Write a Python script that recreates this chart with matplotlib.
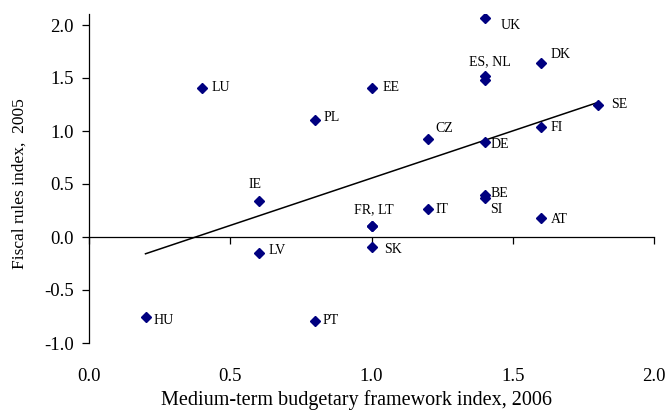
import numpy as np
import matplotlib
matplotlib.use("Agg")
import matplotlib.pyplot as plt

plt.rcParams["font.family"] = ["Liberation Serif", "DejaVu Serif"]
plt.rcParams["axes.unicode_minus"] = False

# data
countries = ["UK", "DK", "ES", "NL", "SE", "FI", "CZ", "DE", "BE", "SI", "IT",
             "AT", "LU", "EE", "PL", "IE", "FR", "LT", "SK", "LV", "HU", "PT"]
mtbf_2006 = [1.4, 1.6, 1.4, 1.4, 1.8, 1.6, 1.2, 1.4, 1.4, 1.4, 1.2,
             1.6, 0.4, 1.0, 0.8, 0.6, 1.0, 1.0, 1.0, 0.6, 0.2, 0.8]
fri_2005 = [2.07, 1.64, 1.52, 1.48, 1.25, 1.04, 0.92, 0.90, 0.40, 0.37, 0.26,
            0.18, 1.41, 1.41, 1.10, 0.34, 0.10, 0.10, -0.09, -0.15, -0.75, -0.79]

# shared labels for overlapping points
label_text = {"ES": "ES, NL", "NL": "", "FR": "FR, LT", "LT": ""}

# label offsets in pixels (dx, dy) and horizontal alignment
label_pos = {
    "UK": (16, -8, "left"), "DK": (10, 9, "left"), "ES": (5, 14, "center"),
    "SE": (14, 0, "left"), "FI": (10, -1, "left"), "CZ": (7, 11, "left"),
    "DE": (6, -3, "left"), "BE": (6, 1, "left"), "SI": (6, -12, "left"),
    "IT": (8, 0, "left"), "AT": (10, -2, "left"), "LU": (10, 0, "left"),
    "EE": (11, 0, "left"), "PL": (9, 3, "left"), "IE": (-3, 16, "center"),
    "FR": (2, 17, "center"), "SK": (13, -3, "left"), "LV": (10, 2, "left"),
    "HU": (8, -4, "left"), "PT": (8, 0, "left"),
}

x = np.array(mtbf_2006)
y = np.array(fri_2005)

fig = plt.figure(figsize=(6.66, 4.12), dpi=100)
ax = fig.add_axes([89 / 666, 1 - 343 / 412, (654 - 89) / 666, (343 - 14.4) / 412])

ax.plot(x, y, "D", color="#000080", markersize=5.6, zorder=3)

# linear trend
b, a = np.polyfit(x, y, 1)
xs = np.array([x.min(), x.max()])
ax.plot(xs, a + b * xs, color="black", linewidth=1.1, zorder=2)

for c, xi, yi in zip(countries, x, y):
    txt = label_text.get(c, c)
    if not txt:
        continue
    dx, dy, ha = label_pos[c]
    ax.annotate(txt, (xi, yi), xytext=(dx, dy), textcoords="offset pixels",
                ha=ha, va="center", fontsize=10)

ax.set_xlim(0, 2)
ax.set_ylim(-1, 2.1)

ax.spines["top"].set_visible(False)
ax.spines["right"].set_visible(False)
ax.spines["bottom"].set_position(("data", 0))
for s in ("left", "bottom"):
    ax.spines[s].set_linewidth(0.9)

ticks_x = [0.0, 0.5, 1.0, 1.5, 2.0]
ticks_y = [-1.0, -0.5, 0.0, 0.5, 1.0, 1.5, 2.0]
ax.set_xticks(ticks_x)
ax.set_yticks(ticks_y)
ax.set_yticklabels([f"{v:.1f}" for v in ticks_y])
ax.tick_params(axis="x", direction="out", length=5, width=0.9, labelbottom=False)
ax.tick_params(axis="y", direction="out", length=5, width=0.9, labelsize=13.5, pad=6)

# x labels sit at the bottom of the plot, not on the zero line
secax = ax.secondary_xaxis("bottom")
secax.set_xticks(ticks_x)
secax.set_xticklabels([f"{v:.1f}" for v in ticks_x])
secax.spines["bottom"].set_visible(False)
secax.tick_params(length=0, pad=18, labelsize=13.5)

ax.set_xlabel("Medium-term budgetary framework index, 2006", fontsize=14.5)
ax.xaxis.set_label_coords(0.4726, -0.143)
ax.set_ylabel("Fiscal rules index,  2005", fontsize=12.5)
ax.yaxis.set_label_coords(-0.108, 0.484)

fig.savefig("out.png", dpi=100)
